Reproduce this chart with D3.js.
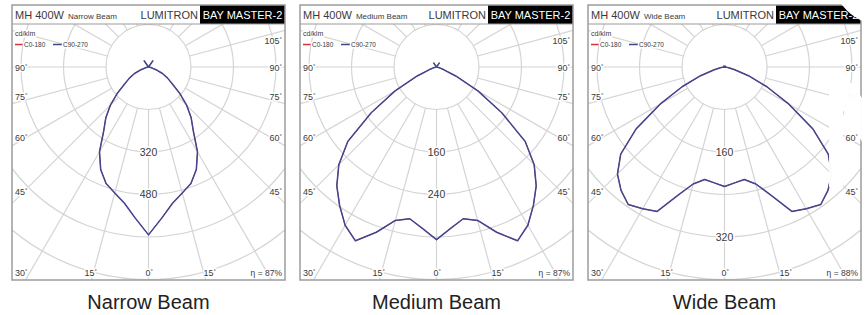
<!DOCTYPE html>
<html><head><meta charset="utf-8">
<script src="https://cdn.jsdelivr.net/npm/d3@7"></script>
<style>
body{margin:0;background:#fff;}
svg{display:block;font-family:"Liberation Sans",Arial,Helvetica,sans-serif;}
</style>
</head><body>
<svg id="chart" width="865" height="315"></svg>
<script>
// ---------- data ----------
const panelNames = ["Narrow Beam", "Medium Beam", "Wide Beam"];
const efficiency = ["87%", "87%", "88%"];
const ringStep = [160, 80, 80];                  // cd/klm per grid ring
const ringLabels = [[320, 480], [160, 240], [160, 320]];
const sideAngles = [105, 90, 75, 60, 45];         // angle labels on the sides
const bottomAngles = [30, 15, 0, 15];             // angle labels along the bottom
const gammaDeg = [0,5,10,15,20,25,30,35,40,45,50,55,60,65,70,75,80,85,90,145];

const narrowC0   = [632,571,521,491,467,426,369,294,250,203,152,108,82,58,30,12,5,2,0,30];
const narrowC90  = [632,571,521,491,467,426,369,294,250,203,152,108,82,58,30,12,5,2,0,30];
const mediumC0   = [325,305,290,299,331,361,344,318,292,260,218,150,90,40,14,6,2,1,0,10];
const mediumC90  = [325,305,290,299,331,361,344,318,292,260,218,150,90,40,14,6,2,1,0,10];
const wideC0     = [225,219,215,228,257,300,308,316,303,285,255,203,140,88,48,20,8,3,0,3];
const wideC90    = [225,219,215,228,257,300,308,316,303,285,255,203,140,88,48,20,8,3,0,3];

const seriesC0 = [narrowC0, mediumC0, wideC0];
const seriesC90 = [narrowC90, mediumC90, wideC90];

// ---------- layout ----------
const W = 273, TOP = 5, HEAD = 19, BOTTOM = 280, CY = 67, RING_PX = 42.5;
const gridColor = "#d4d4d4", frameColor = "#9c9c9c", textColor = "#3a3a3a";
const c0Color = "#d8343a", c90Color = "#43468e";

const svg = d3.select("#chart");
const defs = svg.append("defs");
const rad = d => d * Math.PI / 180;

panelNames.forEach((name, i) => {
  const x0 = 12 + i * 288, cx = x0 + W / 2;
  const r = d3.scaleLinear().domain([0, ringStep[i]]).range([0, RING_PX]);
  const maxVal = r.invert(400);

  defs.append("clipPath").attr("id", "clip" + i)
    .append("rect").attr("x", x0).attr("y", TOP + HEAD).attr("width", W).attr("height", BOTTOM - TOP - HEAD);

  const g = svg.append("g");
  const grid = g.append("g").attr("clip-path", `url(#clip${i})`);

  // rings
  grid.selectAll("circle.ring").data(d3.range(1, 8).map(k => k * ringStep[i]))
    .join("circle").attr("class", "ring")
    .attr("cx", cx).attr("cy", CY).attr("r", d => r(d))
    .attr("fill", "none").attr("stroke", gridColor).attr("stroke-width", 1.2);

  // spokes every 15 deg, starting at first ring
  grid.selectAll("line.spoke").data(d3.range(0, 360, 15))
    .join("line").attr("class", "spoke")
    .attr("x1", d => cx + r(ringStep[i]) * Math.sin(rad(d)))
    .attr("y1", d => CY + r(ringStep[i]) * Math.cos(rad(d)))
    .attr("x2", d => cx + r(maxVal) * Math.sin(rad(d)))
    .attr("y2", d => CY + r(maxVal) * Math.cos(rad(d)))
    .attr("stroke", gridColor).attr("stroke-width", 1.2);

  // curves
  const pts = vals => {
    const left = gammaDeg.map((gm, j) => ({a: Math.PI + rad(gm), v: vals[j]})).reverse();
    const right = gammaDeg.map((gm, j) => ({a: Math.PI - rad(gm), v: vals[j]})).slice(1);
    return left.concat(right);
  };
  const radial = d3.lineRadial().angle(d => d.a).radius(d => r(d.v)).curve(d3.curveLinear);
  const curveG = grid.append("g").attr("transform", `translate(${cx},${CY})`);
  curveG.append("path").attr("d", radial(pts(seriesC0[i])))
    .attr("fill", "none").attr("stroke", c0Color).attr("stroke-width", 1);
  curveG.append("path").attr("d", radial(pts(seriesC90[i])))
    .attr("fill", "none").attr("stroke", c90Color).attr("stroke-width", 1.5).attr("stroke-linejoin", "round");

  // label helper with white halo
  const label = (sel) => sel.attr("fill", textColor).attr("stroke", "#fff").attr("stroke-width", 3)
    .attr("paint-order", "stroke").attr("stroke-linejoin", "round");

  // ring value labels
  g.selectAll("text.rl").data(ringLabels[i]).join("text").attr("class", "rl")
    .attr("x", cx).attr("y", d => CY + r(d)).attr("dy", "0.36em")
    .attr("text-anchor", "middle").attr("font-size", 10.5).text(d => d).call(label);

  // side angle labels
  const sideOffset = {105: 11, 90: 4, 75: -1, 60: 0, 45: -1};
  sideAngles.forEach(a => {
    const y = CY + (W / 2 - 8) * Math.tan(rad(90 - a)) + sideOffset[a];
    if (a !== 105) {
      g.append("text").attr("x", x0 + 3).attr("y", y).attr("font-size", 9)
        .text(a).call(label).append("tspan").attr("dy", -3).attr("font-size", 6).text("°");
    }
    g.append("text").attr("x", x0 + W - 3).attr("y", y).attr("font-size", 9).attr("text-anchor", "end")
      .text(a).call(label).append("tspan").attr("dy", -3).attr("font-size", 6).text("°");
  });

  // bottom angle labels
  const bx = [x0 + 3, cx - 64, cx - 3, cx + 55];
  bottomAngles.forEach((a, k) => {
    g.append("text").attr("x", bx[k]).attr("y", BOTTOM - 4).attr("font-size", 9)
      .text(a).call(label).append("tspan").attr("dy", -3).attr("font-size", 6).text("°");
  });
  g.append("text").attr("x", x0 + W - 3).attr("y", BOTTOM - 4).attr("font-size", 8.5)
    .attr("text-anchor", "end").text("η = " + efficiency[i]).call(label);

  // legend
  g.append("text").attr("x", x0 + 3).attr("y", 36).attr("font-size", 7).text("cd/klm").call(label);
  g.append("line").attr("x1", x0 + 3).attr("x2", x0 + 11).attr("y1", 44.5).attr("y2", 44.5)
    .attr("stroke", c0Color).attr("stroke-width", 1.5);
  g.append("text").attr("x", x0 + 12).attr("y", 47).attr("font-size", 6.5).text("C0-180").call(label);
  g.append("line").attr("x1", x0 + 41).attr("x2", x0 + 50).attr("y1", 44.5).attr("y2", 44.5)
    .attr("stroke", c90Color).attr("stroke-width", 1.5);
  g.append("text").attr("x", x0 + 51).attr("y", 47).attr("font-size", 6.5).text("C90-270").call(label);

  // header
  g.append("rect").attr("x", x0).attr("y", TOP).attr("width", W).attr("height", HEAD).attr("fill", "#fff");
  g.append("rect").attr("x", x0 + W - 85).attr("y", TOP).attr("width", 85).attr("height", HEAD).attr("fill", "#000");
  g.append("text").attr("x", x0 + W - 42.5).attr("y", TOP + 14).attr("font-size", 11)
    .attr("text-anchor", "middle").attr("fill", "#fff").text("BAY MASTER-2");
  g.append("text").attr("x", x0 + W - 87).attr("y", TOP + 14).attr("font-size", 11)
    .attr("text-anchor", "end").attr("fill", textColor).text("LUMITRON");
  const ht = g.append("text").attr("x", x0 + 3).attr("y", TOP + 14).attr("fill", textColor);
  ht.append("tspan").attr("font-size", 11).text("MH 400W");
  ht.append("tspan").attr("font-size", 8).attr("dx", 4).text(name);

  // frame
  g.append("rect").attr("x", x0).attr("y", TOP).attr("width", W).attr("height", BOTTOM - TOP)
    .attr("fill", "none").attr("stroke", frameColor).attr("stroke-width", 1.5);
  g.append("line").attr("x1", x0).attr("x2", x0 + W).attr("y1", TOP + HEAD).attr("y2", TOP + HEAD)
    .attr("stroke", frameColor).attr("stroke-width", 1.2);

  // caption
  svg.append("text").attr("x", cx).attr("y", 309).attr("text-anchor", "middle")
    .attr("font-size", 20).attr("fill", "#222").text(name);
});

// watermark fragments (white logo shapes) at the top-right corner
svg.append("circle").attr("cx", 882).attr("cy", -25).attr("r", 50).attr("fill", "#fff");
svg.append("path")
  .attr("d", "M829,83 L853,83 L915,187 L889,187 L843,110 L843,187 L829,187 Z")
  .attr("fill", "#fff").attr("fill-opacity", 0.97);
</script>
</body></html>
